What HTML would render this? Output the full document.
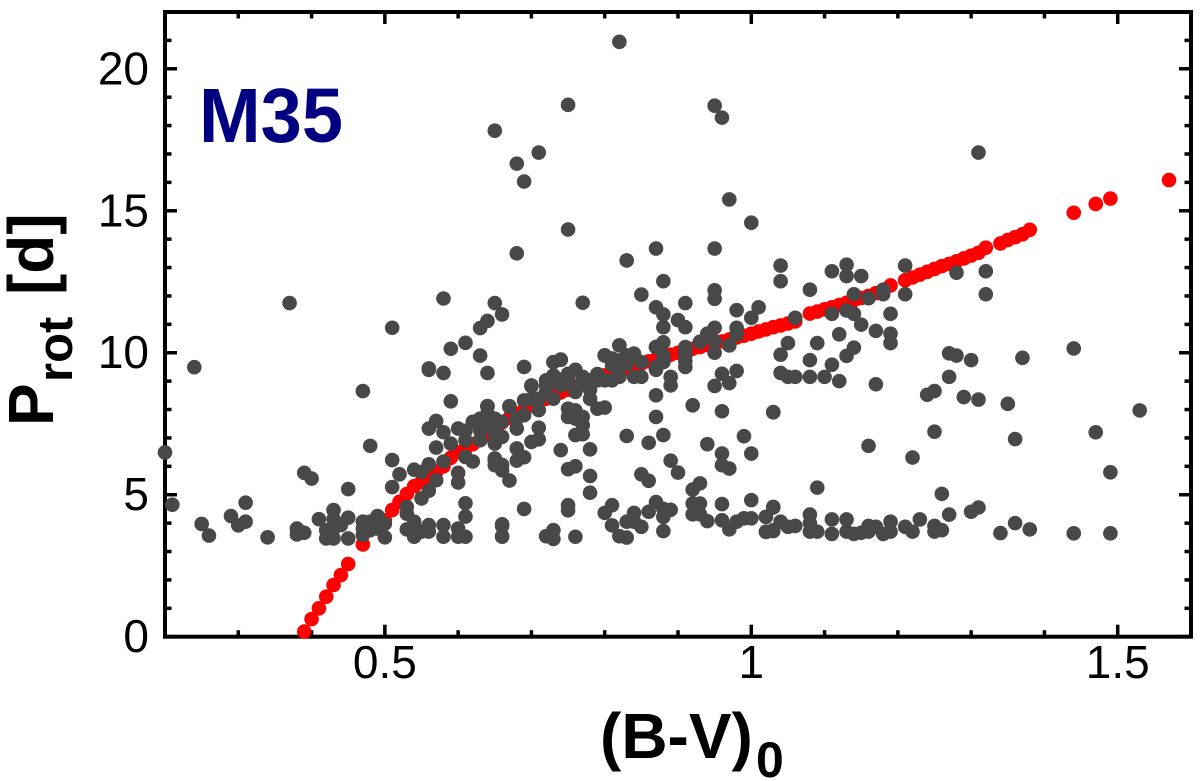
<!DOCTYPE html>
<html lang="en">
<head>
<meta charset="utf-8">
<title>M35 rotation periods</title>
<style>
html,body{margin:0;padding:0;background:#fff;width:1200px;height:781px;overflow:hidden}
svg{display:block;font-family:"Liberation Sans",Arial,sans-serif}
</style>
</head>
<body>
<svg id="chart" xmlns="http://www.w3.org/2000/svg" width="1200" height="781" viewBox="0 0 1200 781">
  <rect x="0" y="0" width="1200" height="781" fill="#fff"/>
  <g id="ticks"></g>
  <rect x="165" y="12" width="1026" height="624.7" fill="none" stroke="#000" stroke-width="4"/>
  <g id="tick-labels" font-size="46" fill="#000"></g>
  <g id="red-series" fill="#ff0000"></g>
  <g id="gray-series" fill="#484848"></g>
  <text x="199" y="142" font-size="77" font-weight="bold" fill="#000080" textLength="144" lengthAdjust="spacingAndGlyphs">M35</text>
  <text font-weight="bold" font-size="64" fill="#000"><tspan x="600" y="758">(B-V)</tspan><tspan x="756" y="777" font-size="50">0</tspan></text>
  <text transform="rotate(-90)" font-weight="bold" font-size="64" fill="#000"><tspan x="-426" y="53">P</tspan><tspan x="-382" y="72" font-size="49">rot</tspan><tspan x="-295" y="53">[d]</tspan></text>
</svg>
<script>
const xTickValues = [0.5, 1, 1.5];
const xTickLabels = ["0.5", "1", "1.5"];
const xMinorValues = [0.3, 0.4, 0.6, 0.7, 0.8, 0.9, 1.1, 1.2, 1.3, 1.4];
const yTickValues = [0, 5, 10, 15, 20];
const yTickLabels = ["0", "5", "10", "15", "20"];
const yMinorValues = [1, 2, 3, 4, 6, 7, 8, 9, 11, 12, 13, 14, 16, 17, 18, 19, 21];

const redColor = [
  .39,.40,.41,.42,.43,.44,.45,.47,.50,.51,.52,.53,.54,.55,.56,.57,.58,.59,.60,.61,
  .62,.63,.64,.65,.66,.67,.68,.69,.70,.71,.72,.73,.74,.75,.76,.77,.78,.79,.80,.81,
  .82,.83,.84,.85,.86,.87,.88,.89,.90,.91,.92,.93,.94,.95,.96,.97,.98,.99,1.00,1.01,
  1.02,1.03,1.04,1.05,1.06,1.08,1.09,1.10,1.11,1.12,1.13,1.14,1.15,1.16,1.17,1.18,1.19,1.21,1.22,1.23,
  1.24,1.25,1.26,1.27,1.28,1.29,1.30,1.31,1.32,1.34,1.35,1.36,1.37,1.38,1.44,1.47,1.49,1.57
];
const redPeriod = [
  .18,.62,1.0,1.41,1.82,2.17,2.56,3.25,4.1,4.46,4.75,5.03,5.3,5.45,5.63,5.8,6.0,6.3,6.5,6.63,
  6.78,6.93,7.1,7.3,7.55,7.7,7.85,8.0,8.13,8.27,8.38,8.5,8.6,8.7,8.8,8.9,9.0,9.1,9.2,9.3,
  9.38,9.46,9.54,9.62,9.7,9.77,9.85,9.93,10.0,10.07,10.14,10.2,10.27,10.33,10.4,10.47,10.54,10.6,10.67,10.75,
  10.82,10.9,10.96,11.03,11.1,11.38,11.45,11.53,11.6,11.68,11.76,11.85,11.93,12.0,12.1,12.2,12.37,12.55,12.65,12.75,
  12.85,12.95,13.05,13.13,13.22,13.32,13.42,13.52,13.7,13.85,13.97,14.07,14.17,14.33,14.93,15.24,15.43,16.08
];

const grayColor = [
  .37,.24,.58,.65,.51,.64,.63,.61,.59,.56,.56,.58,.64,.47,.59,.64,.20,.48,.51,.39,.40,.52,.45,.51,
  .21,.31,.29,.25,.26,.30,.31,.34,.38,.38,.39,
  .41,.43,.43,.43,.42,.43,.42,.45,.45,.44,.47,.47,.48,.48,.49,.49,.50,.50,.47,
  .53,.53,.54,.53,.54,.54,.55,.56,.56,.58,.58,.60,.60,.61,.61,.61,.66,.66,
  .60,.60,.55,.56,.57,.56,.54,.55,.58,.57,.56,.57,.58,.59,.60,.61,.61,.62,.62,.63,.63,.64,.65,.65,.65,.66,.66,
  .69,.73,.74,.72,.73,.75,.76,.70,.72,.73,.75,.76,.69,.70,.71,.71,.69,.67,.68,.68,.64,.65,.63,
  .78,.79,.80,.80,.81,.81,.82,.82,.83,.84,.84,.85,.85,.78,.79,.80,
  .87,.87,.88,.88,.89,.89,.87,.87,
  .91,.91,.93,.94,.95,.95,.97,.98,.96,.98,.95,.97,.92,.96,1.03,
  .99,1.00,.94,.96,.96,.97,.83,.86,.88,.89,.90,.85,.86,.93,.92,
  .92,.93,.92,.93,.94,.96,.96,.97,.98,.99,1.00,1.00,1.02,1.02,1.03,1.03,
  .81,.80,.81,.82,.83,.83,.84,.84,.85,.86,.87,.88,.88,.89,.88,
  .75,.75,.78,.78,.69,.66,.66,.72,.73,.73,.76,.75,.76,.74,.78,.65,.65,.66,.67,.68,.68,.69,.70,.71,.71,.65,.66,
  .75,.76,.77,.75,.76,.77,.76,.77,
  1.04,1.04,1.08,1.11,1.13,1.13,1.15,1.21,1.28,1.32,1.32,1.21,
  1.18,1.18,1.16,1.14,1.06,1.11,1.13,1.14,1.19,1.15,1.17,1.19,1.19,1.12,1.09,1.05,1.04,1.14,1.13,1.08,1.11,1.04,1.05,1.06,1.08,1.10,1.12,1.17,1.03,
  1.27,1.28,1.30,1.37,1.27,1.25,1.24,1.29,1.31,1.35,1.25,1.36,1.16,1.22,
  1.09,1.26,1.30,1.31,1.27,1.34,1.36,1.38,
  1.03,1.02,1.04,1.05,1.06,1.08,1.08,1.08,1.09,1.11,1.11,1.13,1.13,1.14,1.15,1.16,1.16,1.17,1.18,1.19,1.19,1.21,1.22,1.23,1.25,1.25,1.26,1.02,1.03,
  .82,.75,.95,.96,.65,.71,.68,.69,1.31,.97,1.00,.75,.95,.87,.68,.83,.88,.85,.95,.95,.87,.88,.91,.77,.98,1.01,.90,.91,.88,.88,
  1.44,1.49,1.53,1.47,1.44,1.49,
  .87,.88,.91,.98,1.00,.91,.94,.93,.98,.97,.91,.87,.91,.95,.82,.84,.66,.64,.63,.73,.74,.82,.80,.70,.67,.64,
  .72,.73,.74,.74,.75,.77,.77,.78,.79,.81,.82,.83,.61,.63,.65
];
const grayPeriod = [
  11.75,9.49,11.91,11.75,10.88,11.12,10.87,10.35,10.14,9.45,9.4,9.29,9.29,8.65,8.29,8.11,6.49,6.72,6.22,5.77,5.57,5.72,5.2,5.27,
  4.65,4.72,4.25,3.97,3.56,3.92,4.05,3.5,3.81,3.6,3.66,
  4.14,4.46,4.14,3.81,3.46,3.46,3.75,4.19,3.46,3.93,4.05,3.58,3.75,4.05,4.25,3.81,3.98,3.5,3.81,
  4.57,4.33,4.05,3.78,3.52,3.81,3.7,3.93,3.7,3.93,3.52,3.81,3.52,4.7,4.23,3.52,3.9,3.52,
  5.77,5.43,4.87,5.14,5.51,6.07,5.88,5.8,6.17,6.66,7.33,7.6,7.2,6.8,7.33,6.92,6.33,6.17,7.57,6.92,7.68,7.4,6.83,6.22,7.57,6.05,7.57,
  9.5,9.67,9.75,9.03,9.2,9.26,9.4,8.85,8.62,8.38,8.91,8.62,8.32,8.38,8.38,7.98,7.8,8.09,7.68,7.33,7.86,7.68,7.27,
  9.03,9.03,9.03,9.91,9.03,9.56,10.26,9.73,9.91,9.91,9.15,9.15,9.67,8.38,8.03,8.07,
  10.2,9.5,9.91,9.67,9.15,8.85,8.5,7.74,
  10.2,9.97,10.39,10.6,10.0,10.4,10.26,10.65,9.26,9.36,8.83,8.93,8.15,7.94,7.9,
  7.06,6.45,6.78,6.45,6.04,5.92,7.07,6.83,7.1,6.2,5.78,5.72,5.49,5.4,5.18,
  4.69,4.69,4.31,4.31,4.07,4.67,4.1,3.78,4.05,4.17,4.81,4.17,4.22,3.69,4.57,3.75,
  4.63,4.36,3.92,3.54,3.49,4.05,4.36,4.05,3.87,4.4,4.74,4.22,4.5,4.47,3.72,
  4.63,4.45,5.66,5.07,4.5,3.96,3.54,3.54,3.75,3.44,3.52,5.9,6.0,6.57,6.6,6.28,6.04,5.86,5.5,6.63,6.2,6.32,6.86,6.95,7.36,6.8,7.04,
  8.03,7.97,7.74,7.74,7.68,7.45,7.1,7.13,
  13.07,12.52,12.22,12.87,13.1,12.7,12.7,13.07,12.82,12.87,12.06,12.06,
  12.22,12.06,11.92,12.06,11.23,11.37,11.49,11.37,11.37,10.99,10.77,10.67,10.34,10.65,10.34,10.34,9.93,10.18,9.89,9.74,9.58,9.29,9.15,9.15,9.15,9.15,9.0,8.89,7.91,
  9.98,9.9,9.74,9.82,9.15,8.65,8.52,8.44,8.35,8.2,7.22,6.96,6.72,6.31,
  5.25,5.03,4.4,4.55,4.3,3.65,4.0,3.78,
  4.55,4.22,4.05,3.87,3.9,4.3,4.0,3.7,3.7,4.13,3.62,4.13,3.7,3.62,3.66,3.9,3.7,3.87,3.62,4.05,3.7,3.87,3.7,4.13,3.9,3.7,3.75,3.7,3.72,
  20.95,18.73,18.7,18.28,17.82,17.05,16.66,16.03,17.05,15.4,14.58,14.34,13.67,13.67,13.5,13.25,12.52,12.05,12.2,11.9,11.6,11.35,11.75,11.76,11.5,11.6,11.15,10.9,10.9,10.37,
  10.15,5.79,7.97,7.2,3.64,3.64,
  10.2,9.77,10.14,10.65,11.23,9.9,10.67,10.37,10.88,10.26,9.7,9.4,9.5,10.88,10.26,9.97,11.35,8.12,9.9,9.67,9.76,9.6,9.9,8.82,8.12,8.12,
  8.85,9.0,9.05,8.85,9.05,8.95,9.15,8.7,9.25,9.8,9.15,9.6,7.25,7.4,7.15
];

const SVG_NS = "http://www.w3.org/2000/svg";
const X0 = 165, X1 = 1191, Y0 = 636.7, Y1 = 12;
const xScale = v => X0 + (v - 0.2) * (X1 - X0) / 1.4;
const yScale = v => Y0 - v * (Y0 - Y1) / 22;

const ticksGroup = document.getElementById("ticks");
const labelsGroup = document.getElementById("tick-labels");
const redGroup = document.getElementById("red-series");
const grayGroup = document.getElementById("gray-series");

function addTickLine(x1, y1, x2, y2) {
  const line = document.createElementNS(SVG_NS, "line");
  line.setAttribute("x1", x1);
  line.setAttribute("y1", y1);
  line.setAttribute("x2", x2);
  line.setAttribute("y2", y2);
  line.setAttribute("stroke", "#000");
  line.setAttribute("stroke-width", "3.5");
  
  
  ticksGroup.appendChild(line);
}
function addXTick(v, len) {
  addTickLine(xScale(v), Y0, xScale(v), Y0 - len);
  addTickLine(xScale(v), Y1, xScale(v), Y1 + len);
}
function addYTick(v, len) {
  addTickLine(X0, yScale(v), X0 + len, yScale(v));
  addTickLine(X1, yScale(v), X1 - len, yScale(v));
}
xTickValues.forEach(v => addXTick(v, 12));
xMinorValues.forEach(v => addXTick(v, 6.5));
yTickValues.forEach(v => addYTick(v, 12));
yMinorValues.forEach(v => addYTick(v, 6.5));

xTickValues.forEach((v, i) => {
  const t = document.createElementNS(SVG_NS, "text");
  t.setAttribute("x", xScale(v));
  t.setAttribute("y", 678);
  t.setAttribute("text-anchor", "middle");
  t.textContent = xTickLabels[i];
  
  
  labelsGroup.appendChild(t);
});
yTickValues.forEach((v, i) => {
  const t = document.createElementNS(SVG_NS, "text");
  t.setAttribute("x", 149);
  t.setAttribute("y", yScale(v) + 15.5);
  t.setAttribute("text-anchor", "end");
  t.textContent = yTickLabels[i];
  
  
  labelsGroup.appendChild(t);
});

redColor.forEach((v, i) => {
  const c = document.createElementNS(SVG_NS, "circle");
  c.setAttribute("cx", xScale(v));
  c.setAttribute("cy", yScale(redPeriod[i]));
  c.setAttribute("r", 7.3);
  
  
  redGroup.appendChild(c);
});
grayColor.forEach((v, i) => {
  const c = document.createElementNS(SVG_NS, "circle");
  c.setAttribute("cx", xScale(v));
  c.setAttribute("cy", yScale(grayPeriod[i]));
  c.setAttribute("r", 7.3);
  
  
  grayGroup.appendChild(c);
});
</script>
</body>
</html>
